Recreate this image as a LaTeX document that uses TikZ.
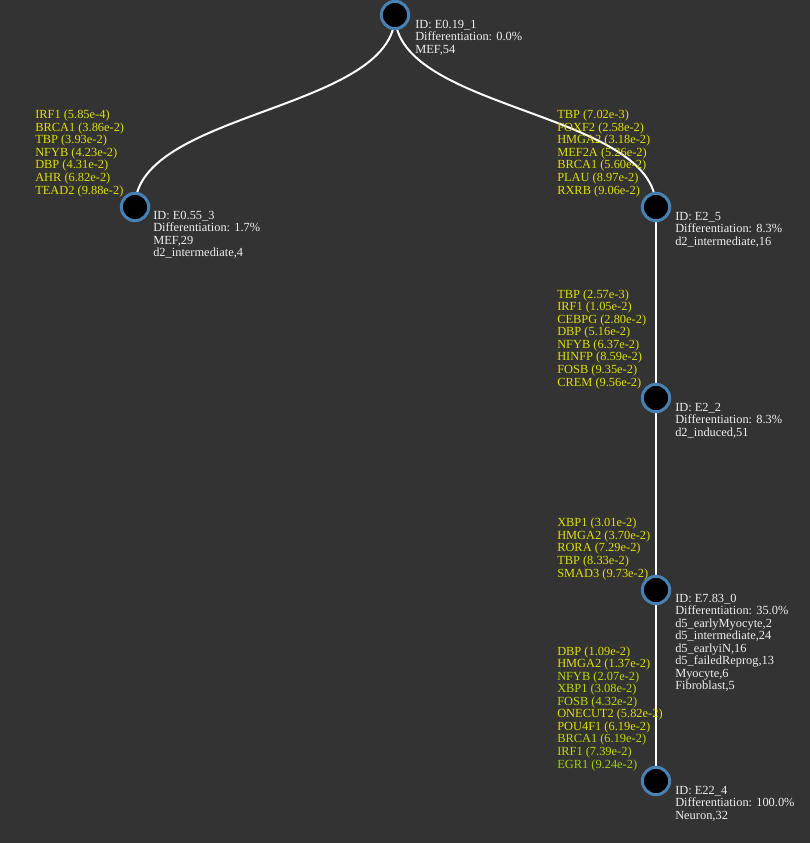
\documentclass[tikz,border=0pt]{standalone}
\usepackage{fontspec}
\setmainfont{Liberation Serif}
\usetikzlibrary{calc}
\pgfdeclarelayer{bgl}
\pgfdeclarelayer{edges}
\pgfsetlayers{bgl,edges,main}
\definecolor{bgc}{RGB}{51,51,51}
\definecolor{ringc}{RGB}{70,130,180}
\definecolor{infoc}{RGB}{238,238,238}
\definecolor{ya}{RGB}{222,224,0}
\definecolor{yg}{RGB}{190,218,0}
\definecolor{gg}{RGB}{160,210,0}
\tikzset{
  tnode/.style={circle,draw=ringc,fill=black,line width=2.25pt,minimum size=20.5pt,inner sep=0pt},
  link/.style={draw=white,line width=1.5pt},
  info/.style={text=infoc,inner sep=0pt,anchor=base west,font=\fontsize{9.3}{9.4}\selectfont},
  genes/.style={text=ya,inner sep=0pt,anchor=base west,font=\fontsize{9.3}{9.4}\selectfont}
}
\begin{document}
\begin{tikzpicture}[x=0.75pt,y=-0.75pt]
\begin{pgfonlayer}{bgl}
\fill[bgc] (0,0) rectangle (810,843);
\end{pgfonlayer}
\useasboundingbox (0,0) rectangle (810,843);
% tree nodes
\coordinate (m1) at (0,111);
\node[tnode] (r) at (395,15) {};
\node[tnode] (a) at (135,207) {};
\node[tnode] (b) at (656,207) {};
\node[tnode] (c) at (656,398) {};
\node[tnode] (d) at (656,590) {};
\node[tnode] (e) at (656,781) {};
% links (behind nodes)
\begin{pgfonlayer}{edges}
\path[link] (r.center) .. controls (r |- m1) and (a |- m1) .. (a.center);
\path[link] (r.center) .. controls (r |- m1) and (b |- m1) .. (b.center);
\path[link] (b.center) -- (c.center);
\path[link] (c.center) -- (d.center);
\path[link] (d.center) -- (e.center);
\end{pgfonlayer}
% info labels
\node[info] (ri) at ($(r)+(20,13)$) {\begin{tabular}[t]{@{}l@{}}ID: E0.19\_1\\Differentiation: 0.0\%\\MEF,54\end{tabular}};
\node[info] (ai) at ($(a)+(18,12)$) {\begin{tabular}[t]{@{}l@{}}ID: E0.55\_3\\Differentiation: 1.7\%\\MEF,29\\d2\_intermediate,4\end{tabular}};
\node[info] (bi) at ($(b)+(19,13)$) {\begin{tabular}[t]{@{}l@{}}ID: E2\_5\\Differentiation: 8.3\%\\d2\_intermediate,16\end{tabular}};
\node[info] (ci) at ($(c)+(19,13)$) {\begin{tabular}[t]{@{}l@{}}ID: E2\_2\\Differentiation: 8.3\%\\d2\_induced,51\end{tabular}};
\node[info] (di) at ($(d)+(19,12)$) {\begin{tabular}[t]{@{}l@{}}ID: E7.83\_0\\Differentiation: 35.0\%\\d5\_earlyMyocyte,2\\d5\_intermediate,24\\d5\_earlyiN,16\\d5\_failedReprog,13\\Myocyte,6\\Fibroblast,5\end{tabular}};
\node[info] (ei) at ($(e)+(19,13)$) {\begin{tabular}[t]{@{}l@{}}ID: E22\_4\\Differentiation: 100.0\%\\Neuron,32\end{tabular}};
% gene labels
\node[genes] (ag) at ($(a)+(-100,-13)$) {\begin{tabular}[b]{@{}l@{}}IRF1 (5.85e-4)\\BRCA1 (3.86e-2)\\TBP (3.93e-2)\\NFYB (4.23e-2)\\DBP (4.31e-2)\\AHR (6.82e-2)\\TEAD2 (9.88e-2)\end{tabular}};
\node[genes] (bg) at ($(b)+(-99,-13)$) {\begin{tabular}[b]{@{}l@{}}TBP (7.02e-3)\\FOXF2 (2.58e-2)\\HMGA2 (3.18e-2)\\MEF2A (5.26e-2)\\BRCA1 (5.60e-2)\\PLAU (8.97e-2)\\RXRB (9.06e-2)\end{tabular}};
\node[genes] (cg) at ($(c)+(-99,-12)$) {\begin{tabular}[b]{@{}l@{}}TBP (2.57e-3)\\IRF1 (1.05e-2)\\CEBPG (2.80e-2)\\DBP (5.16e-2)\\NFYB (6.37e-2)\\HINFP (8.59e-2)\\FOSB (9.35e-2)\\CREM (9.56e-2)\end{tabular}};
\node[genes] (dg) at ($(d)+(-99,-13)$) {\begin{tabular}[b]{@{}l@{}}XBP1 (3.01e-2)\\HMGA2 (3.70e-2)\\RORA (7.29e-2)\\TBP (8.33e-2)\\SMAD3 (9.73e-2)\end{tabular}};
\node[genes] (eg) at ($(e)+(-99,-13)$) {\begin{tabular}[b]{@{}l@{}}DBP (1.09e-2)\\HMGA2 (1.37e-2)\\\textcolor{yg}{NFYB (2.07e-2)}\\\textcolor{yg}{XBP1 (3.08e-2)}\\\textcolor{yg}{FOSB (4.32e-2)}\\ONECUT2 (5.82e-2)\\POU4F1 (6.19e-2)\\\textcolor{yg}{BRCA1 (6.19e-2)}\\\textcolor{yg}{IRF1 (7.39e-2)}\\\textcolor{gg}{EGR1 (9.24e-2)}\end{tabular}};
\end{tikzpicture}
\end{document}
